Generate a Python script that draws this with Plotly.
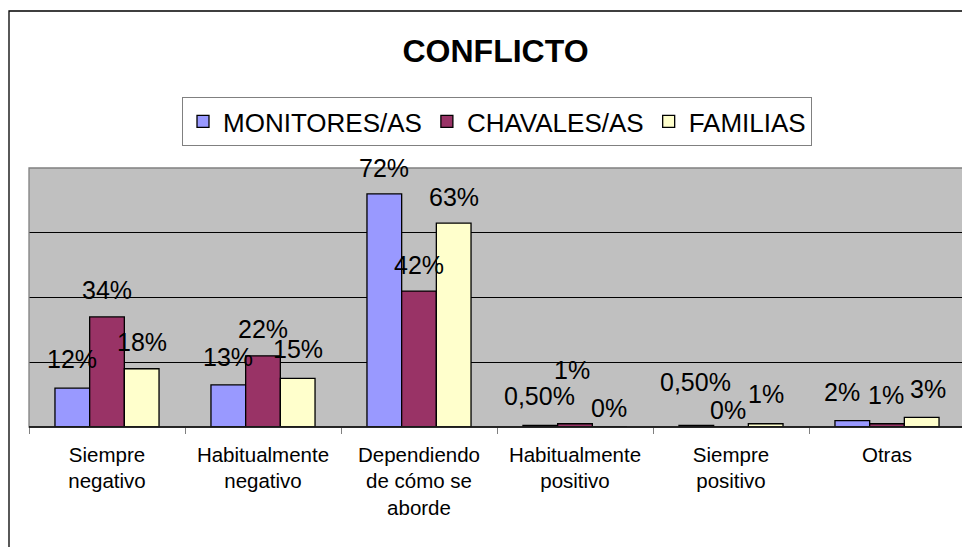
import plotly.graph_objects as go

categories = ["Siempre<br>negativo", "Habitualmente<br>negativo", "Dependiendo<br>de cómo se<br>aborde",
              "Habitualmente<br>positivo", "Siempre<br>positivo", "Otras"]
series_names = ["MONITORES/AS", "CHAVALES/AS", "FAMILIAS"]
monitores = [12, 13, 72, 0.5, 0.5, 2]
chavales = [34, 22, 42, 1, 0, 1]
familias = [18, 15, 63, 0, 1, 3]
monitores_labels = ["12%", "13%", "72%", "0,50%", "0,50%", "2%"]
chavales_labels = ["34%", "22%", "42%", "1%", "0%", "1%"]
familias_labels = ["18%", "15%", "63%", "0%", "1%", "3%"]

values = [monitores, chavales, familias]
labels = [monitores_labels, chavales_labels, familias_labels]
colors = ["#9999FF", "#993366", "#FFFFCC"]
# label offsets (px), style only
label_shift = [
    [29, 28, 26, 29, 43, 29],
    [27, 27, 26, 54, 17, 29],
    [27, 29, 26, 19, 30, 28],
]
label_dx = [
    [0, 0, 0, -1, -1, -10],
    [0, 0, 0, -3, -3, -1],
    [0, 0, 0, -1, 0, 6],
]

FONT = "Liberation Sans, Arial, sans-serif"
O = 8  # page body margin offset
W, H = 970 - O, 547 - O
L, R, T, B = 29 - O, 5, 168 - O, 547 - 427
plot_w = W - L - R
plot_h = H - T - B
cat_w = plot_w / len(categories)
bargap = 0.333
bar_w = cat_w * (1 - bargap) / 3

fig = go.Figure()
for name, vals, col in zip(series_names, values, colors):
    fig.add_trace(go.Bar(
        x=categories, y=vals, name=name,
        marker=dict(color=col, line=dict(color="black", width=1.3)),
    ))

for i, (vals, labs) in enumerate(zip(values, labels)):
    for j, (v, t) in enumerate(zip(vals, labs)):
        fig.add_annotation(
            x=categories[j], y=v, xref="x", yref="y", text=t, showarrow=False,
            xshift=(i - 1) * bar_w + label_dx[i][j], yshift=label_shift[i][j], yanchor="middle",
            font=dict(family=FONT, size=25, color="black"),
        )

def py(p):
    return (427 - p) / plot_h

def px(p):
    return (p - 29) / plot_w

# plot area border
fig.add_shape(type="rect", xref="paper", yref="paper", x0=0, x1=1, y0=0, y1=1,
              line=dict(color="#808080", width=1.3), layer="above")
# outer chart border (clipped at right/bottom)
fig.add_shape(type="path", xref="paper", yref="paper",
              path=f"M {px(9)} {py(570)} L {px(9)} {py(11)} L {px(990)} {py(11)}",
              line=dict(color="black", width=1.3))
# category axis line
fig.add_shape(type="line", xref="paper", yref="paper", x0=0, x1=1, y0=0, y1=0,
              line=dict(color="black", width=1.3), layer="above")

fig.update_layout(
    width=W, height=H,
    margin=dict(l=L, r=R, t=T, b=B, pad=0),
    paper_bgcolor="white", plot_bgcolor="#C0C0C0",
    barmode="group", bargap=bargap, bargroupgap=0,
    font=dict(family=FONT, color="black"),
    title=dict(text="<b>CONFLICTO</b>", x=(495.5 - O) / W, xanchor="center",
               y=1 - (51 - O) / H, yanchor="middle", font=dict(family=FONT, size=32, color="black")),
    legend=dict(orientation="h", x=px(497), xanchor="center", y=py(97), yanchor="top",
                bordercolor="#808080", borderwidth=1, bgcolor="white",
                font=dict(family=FONT, size=26, color="black"), itemwidth=30,
                traceorder="normal"),
    showlegend=True,
)
fig.update_xaxes(showline=False, ticks="outside", tickson="boundaries", ticklen=6,
                 tickcolor="#808080", tickwidth=1.3, showgrid=False,
                 tickfont=dict(family=FONT, size=20.5, color="black"), ticklabelstandoff=13)
fig.update_yaxes(range=[0, 80], dtick=20, showticklabels=False, showgrid=True,
                 gridcolor="black", gridwidth=1, zeroline=False, showline=False, ticks="")

fig.write_html("out.html")
